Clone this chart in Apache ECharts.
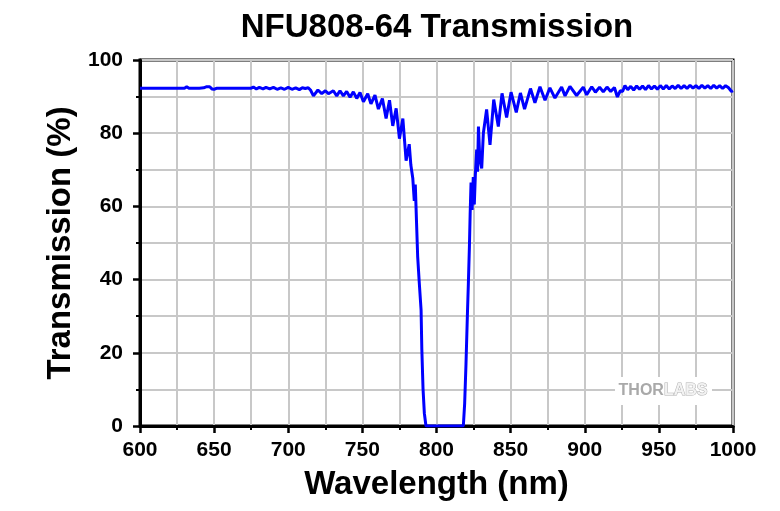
<!DOCTYPE html>
<html>
<head>
<meta charset="utf-8">
<script src="https://cdn.jsdelivr.net/npm/echarts@6/dist/echarts.min.js"></script>
<style>
html,body{margin:0;padding:0;background:#fff;}
#chart{width:780px;height:511px;}
</style>
</head>
<body>
<div id="chart"></div>
<script>
// Wavelength (nm) sample positions
var wavelength = [
  600, 610, 620, 630, 631.5, 633, 640, 643, 645, 647, 648.5, 650, 652, 660, 670, 675,
  676.5, 678.5, 680.5, 683, 685, 687.5, 690, 692.5, 695, 697.5, 700, 702.5, 705, 707.5, 709.5, 711.5, 713.5,
  715, 717, 720, 722.6, 725, 727.1, 730.4, 732.7, 734.9, 737.2, 739.4, 741.7, 743.9, 746.2, 748.4,
  750.7, 753.6, 755.8, 758.5, 760.8, 763.5, 766, 768.3, 770.5, 772.8, 775, 777.3, 779.5, 781.6, 782.7,
  784, 785, 785.7, 786.5, 787.3, 788.4, 789.6, 790.1, 790.9, 791.8, 792.9, 800, 810, 818.1,
  819, 819.9, 820.8, 821.5, 822.2, 822.7, 823.3, 824, 824.8, 825.5, 826.2, 827.1, 827.7, 828.3, 829.2,
  830.5, 831.6, 833.8, 836.1, 838.6, 841.7, 844.2, 847.3, 850.3, 853.8, 856.6, 859.4, 863.4, 866.4,
  869.8, 873.2, 876.5, 879.9, 884.4, 886.7, 890, 894.5, 899, 901.3, 904.7, 907.2, 910, 912.5, 915,
  917.5, 920, 922, 924, 925.5, 927.1, 929, 931, 933, 935, 937, 939, 941, 943, 945, 947, 949, 951,
  953, 955, 957, 959, 961, 963, 965, 967, 969, 971, 973, 975, 977, 979, 981, 983, 985, 987, 989,
  991, 993, 995, 997, 999, 1000
];
// Transmission (%) at each wavelength above
var transmission = [
  92.3, 92.3, 92.3, 92.3, 92.7, 92.3, 92.3, 92.4, 92.7, 92.7, 92.1, 92.0, 92.3, 92.3, 92.3, 92.3,
  92.6, 92.1, 92.5, 92.1, 92.5, 92.1, 92.5, 92.0, 92.4, 92.0, 92.5, 92.0, 92.4, 91.9, 92.4, 92.2, 92.4,
  91.8, 90.2, 91.8, 90.8, 91.6, 90.8, 91.6, 90.2, 91.6, 90.2, 91.4, 89.8, 91.3, 89.5, 91.1,
  88.6, 90.8, 88.0, 90.4, 86.6, 89.5, 84.0, 89.0, 82.0, 86.8, 78.5, 84.0, 72.5, 77.0, 71.3,
  67.7, 61.5, 66.0, 56.0, 46.3, 39.0, 31.7, 21.0, 10.3, 3.5, 0, 0, 0, 0,
  6.2, 17.0, 29.8, 39.0, 49.0, 58.0, 66.5, 59.0, 68.0, 60.5, 68.5, 75.5, 69.5, 81.8, 73.0,
  70.4, 80.0, 86.5, 76.8, 89.2, 81.8, 90.9, 84.3, 91.2, 85.7, 91.0, 86.6, 92.2, 88.3,
  92.7, 89.0, 92.4, 89.6, 92.6, 90.2, 92.8, 90.3, 92.6, 90.5, 92.7, 91.2, 92.6, 91.3, 92.6,
  91.4, 92.5, 89.9, 91.6, 91.4, 93.0, 91.9, 92.8, 91.8, 92.9, 92.0, 92.9, 91.9, 93.0, 92.1, 92.9, 92.0, 93.0,
  92.1, 93.0, 92.1, 92.9, 92.2, 93.1, 92.2, 93.0, 92.2, 93.1, 92.3, 93.0, 92.2, 93.1, 92.3, 93.0, 92.2, 93.1, 92.3,
  93.0, 92.2, 93.0, 92.4, 91.4, 91.6
];
var xTicks = {min: 600, max: 1000, interval: 50};
var yTicks = {min: 0, max: 100, interval: 20};
var titleText = 'NFU808-64 Transmission';
var xName = 'Wavelength (nm)';
var yName = 'Transmission (%)';

var seriesData = wavelength.map(function (w, i) { return [w, transmission[i]]; });

var FONT = '"Liberation Sans", Arial, sans-serif';
var chart = echarts.init(document.getElementById('chart'), null, {renderer: 'canvas'});

function plain(v) { return String(v); }

function axisCommon(extra) {
  var base = {
    type: 'value',
    axisLine: {show: true, onZero: false, lineStyle: {color: '#000', width: 3}},
    axisTick: {show: true, inside: false, length: 7, lineStyle: {color: '#000', width: 2.5}},
    minorTick: {show: true, splitNumber: 2, length: 4, lineStyle: {color: '#000', width: 2}},
    splitLine: {show: true, lineStyle: {color: '#c8c8c8', width: 2}},
    minorSplitLine: {show: true, lineStyle: {color: '#c8c8c8', width: 2}},
    nameLocation: 'middle',
    nameTextStyle: {color: '#000', fontFamily: FONT, fontWeight: 'bold', fontSize: 33}
  };
  for (var k in extra) base[k] = extra[k];
  return base;
}

chart.setOption({
  animation: false,
  backgroundColor: '#fff',
  grid: {
    left: 140, right: 47, top: 60, bottom: 85,
    show: true, borderColor: '#000', borderWidth: 3, backgroundColor: 'transparent'
  },
  xAxis: axisCommon({
    min: xTicks.min, max: xTicks.max, interval: xTicks.interval,
    name: xName, nameGap: 42,
    axisLabel: {color: '#000', fontFamily: FONT, fontWeight: 'bold', fontSize: 21, margin: 14,
      showMaxLabel: true, showMinLabel: true, formatter: plain}
  }),
  yAxis: axisCommon({
    min: yTicks.min, max: yTicks.max, interval: yTicks.interval,
    name: yName, nameGap: 55,
    axisLabel: {color: '#000', fontFamily: FONT, fontWeight: 'bold', fontSize: 21, margin: 17, formatter: plain}
  }),
  graphic: [
    {
      type: 'text', z: 60,
      x: 437, y: 28,
      style: {
        text: titleText, align: 'center', verticalAlign: 'middle',
        fontFamily: FONT, fontWeight: 'bold', fontSize: 33, fill: '#000'
      }
    },
    {
      type: 'rect', z: 50,
      shape: {x: 615, y: 377, width: 97, height: 28},
      style: {fill: '#fff'}
    },
    {
      type: 'text', z: 51,
      x: 663, y: 391,
      style: {
        text: '{a|THOR}{b|LABS}',
        align: 'center', verticalAlign: 'middle',
        rich: {
          a: {fontFamily: FONT, fontWeight: 'bold', fontSize: 16, fill: '#a9a9a9'},
          b: {fontFamily: FONT, fontWeight: 'bold', fontSize: 16, fill: '#f2f2f2', stroke: '#b0b0b0', lineWidth: 1}
        }
      }
    }
  ],
  series: [{
    type: 'line',
    data: seriesData,
    showSymbol: false,
    symbol: 'none',
    lineStyle: {color: '#0000ff', width: 3},
    z: 10
  }]
});
</script>
</body>
</html>
